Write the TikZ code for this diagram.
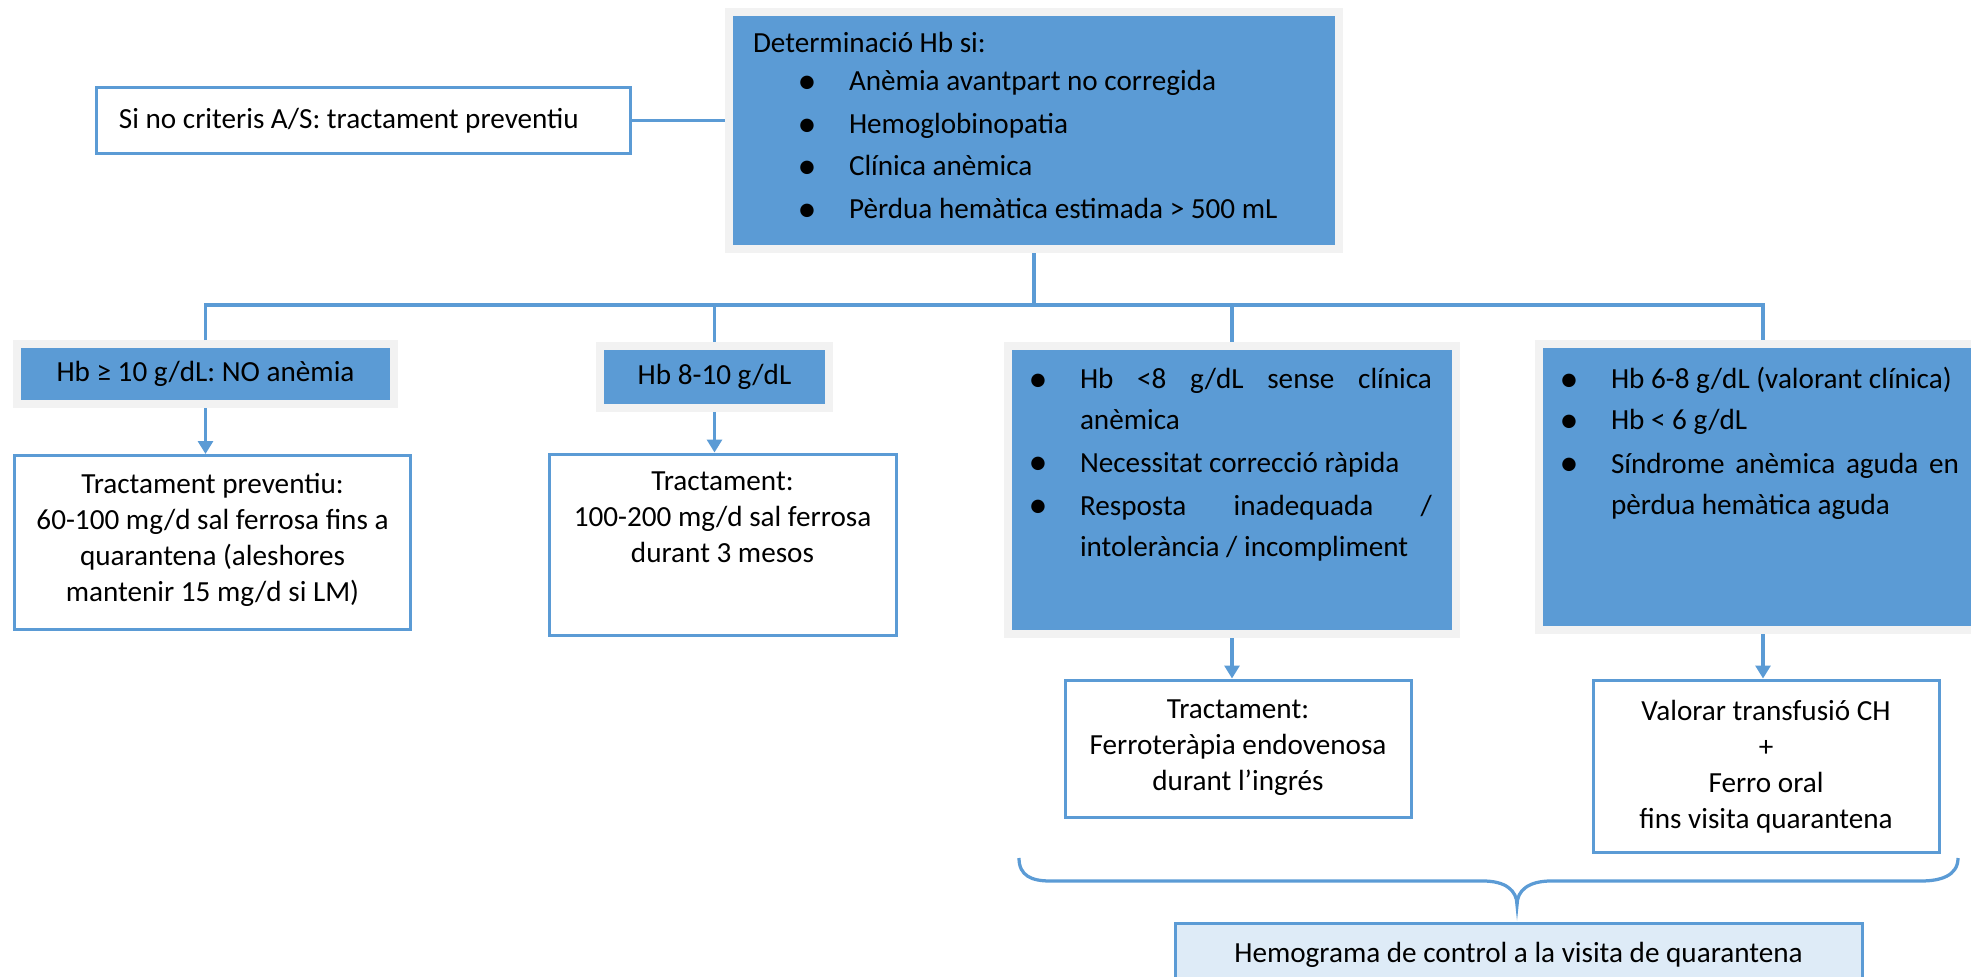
\documentclass[tikz,border=0pt]{standalone}
\usepackage{fontspec}
\setmainfont{Carlito}
\usepackage{xcolor}
\usepackage{tikz}
\usetikzlibrary{arrows.meta}
\definecolor{hbblue}{HTML}{5B9BD5}
\definecolor{hbframe}{HTML}{F2F2F2}
\definecolor{hblight}{HTML}{DEEBF7}
\newcommand{\blt}{\makebox[8mm][c]{\raisebox{-0.55mm}{\scalebox{1.3}{\textbullet}}}\hspace{4.4mm}}
\newcommand{\cnt}{\hspace*{12.4mm}}
\newcommand{\tb}[3]{\parbox[c][#2][t]{#1}{#3}}

\begin{document}
\begin{tikzpicture}[x=0.2mm, y=-0.2mm,
  hbbox/.style={rectangle, draw=hbframe, fill=hbblue, line width=1.6mm,
                inner sep=0pt, font=\fontsize{16.6}{23.3}\selectfont},
  txbox/.style={rectangle, draw=hbblue, fill=white, line width=0.6mm,
                inner sep=0pt, font=\fontsize{16.6}{20.5}\selectfont},
  ctrlbox/.style={txbox, fill=hblight},
  conn/.style={hbblue, line width=0.62mm},
  arr/.style={conn, -{Triangle[length=2.6mm, width=3mm]}}
]
\useasboundingbox (0,0) rectangle (1971,977);
\clip (0,0) rectangle (1971,977);
%% TOP: criteria
\node[hbbox, inner xsep=4.8mm, inner ysep=4mm, font=\fontsize{16.6}{24.2}\selectfont] (det) at (1034,130.5)
  {\tb{112.4mm}{39.4mm}{\raggedright Determinació Hb si:\\[-0.8mm]
   \hspace*{6.8mm}\blt Anèmia avantpart no corregida\\
   \hspace*{6.8mm}\blt Hemoglobinopatia\\
   \hspace*{6.8mm}\blt Clínica anèmica\\
   \hspace*{6.8mm}\blt Pèrdua hemàtica estimada > 500 mL}};
\node[txbox, minimum width=106.6mm, minimum height=13mm] (crit) at (363.5,120.5)
  {\parbox{97.8mm}{\raggedright Si no criteris A/S: tractament preventiu}};
\draw[conn] (crit.east) -- (crit.east -| det.west);
%% ROW 1: Hb ranges
\node[hbbox, minimum width=75.4mm, minimum height=12mm] (hbok)  at (205.5,374) {Hb ≥ 10 g/dL: NO anèmia};
\node[hbbox, minimum width=45.8mm, minimum height=12.4mm] (hbmid) at (714.5,377) {Hb 8-10 g/dL};
\node[hbbox, inner xsep=2mm, inner ysep=4.4mm] (hblow) at (1232,490)
  {\tb{85.6mm}{48.8mm}{\raggedright
   \blt\makebox[70.4mm][s]{Hb <8 g/dL sense clínica}\\
   \cnt anèmica\\[0.4mm]
   \blt Necessitat correcció ràpida\\[0.4mm]
   \blt\makebox[70.4mm][s]{Resposta inadequada /}\\
   \cnt intolerància / incompliment}};
\node[hbbox, inner xsep=2mm, inner ysep=4.6mm] (hbsev) at (1763,487)
  {\tb{85.6mm}{48mm}{\raggedright
   \blt Hb 6-8 g/dL (valorant clínica)\\
   \blt Hb < 6 g/dL\\[0.6mm]
   \blt\makebox[69.6mm][s]{Síndrome anèmica aguda en}\\
   \cnt pèrdua hemàtica aguda}};
\coordinate (bus) at (0,305);
\draw[conn] (det.south) -- (det.south |- bus);
\draw[conn] (hbok.north) -- (hbok.north |- bus) -- (hbsev.north |- bus) -- (hbsev.north);
\draw[conn] (hbmid.north |- bus) -- (hbmid.north);
\draw[conn] (hblow.north |- bus) -- (hblow.north);
%% ROW 2: treatments
\node[txbox, inner xsep=2mm, inner ysep=3.6mm] (trprev) at (212.5,542.5)
  {\tb{75.2mm}{27.6mm}{\centering Tractament preventiu:\\
   60-100 mg/d sal ferrosa fins a\\ quarantena (aleshores\\ mantenir 15 mg/d si LM)}};
\node[txbox, inner xsep=2mm, inner ysep=3.6mm] (trmid) at (722.5,544.5)
  {\tb{65.4mm}{29mm}{\centering Tractament:\\ 100-200 mg/d sal ferrosa\\ durant 3 mesos}};
\node[txbox, inner xsep=2mm, inner ysep=4mm] (trev) at (1238,748.5)
  {\tb{65.2mm}{19.4mm}{\centering Tractament:\\ Ferroteràpia endovenosa\\ durant l’ingrés}};
\node[txbox, inner xsep=2mm, inner ysep=4mm] (trsev) at (1766,766)
  {\tb{65.2mm}{26.4mm}{\centering Valorar transfusió CH\\ +\\ Ferro oral\\ fins visita quarantena}};
\draw[arr] (hbok.south)  -- (hbok.south |- trprev.north);
\draw[arr] (hbmid.south) -- (hbmid.south |- trmid.north);
\draw[arr] (hblow.south) -- (hblow.south |- trev.north);
\draw[arr] (hbsev.south) -- (hbsev.south |- trsev.north);
%% BOTTOM: follow-up
\draw[conn, line width=0.65mm] (1019,858) .. controls (1019,876) and (1032,881) .. (1050,881)
  -- (1483,881) .. controls (1505,881) and (1517,890) .. (1517,905)
  .. controls (1517,890) and (1529,881) .. (1551,881)
  -- (1921,881) .. controls (1940,881) and (1958,876) .. (1958,858);
\node[ctrlbox, minimum width=137.4mm, minimum height=12.8mm] (ctrl) at (1518.5,955)
  {Hemograma de control a la visita de quarantena};
\end{tikzpicture}
\end{document}
